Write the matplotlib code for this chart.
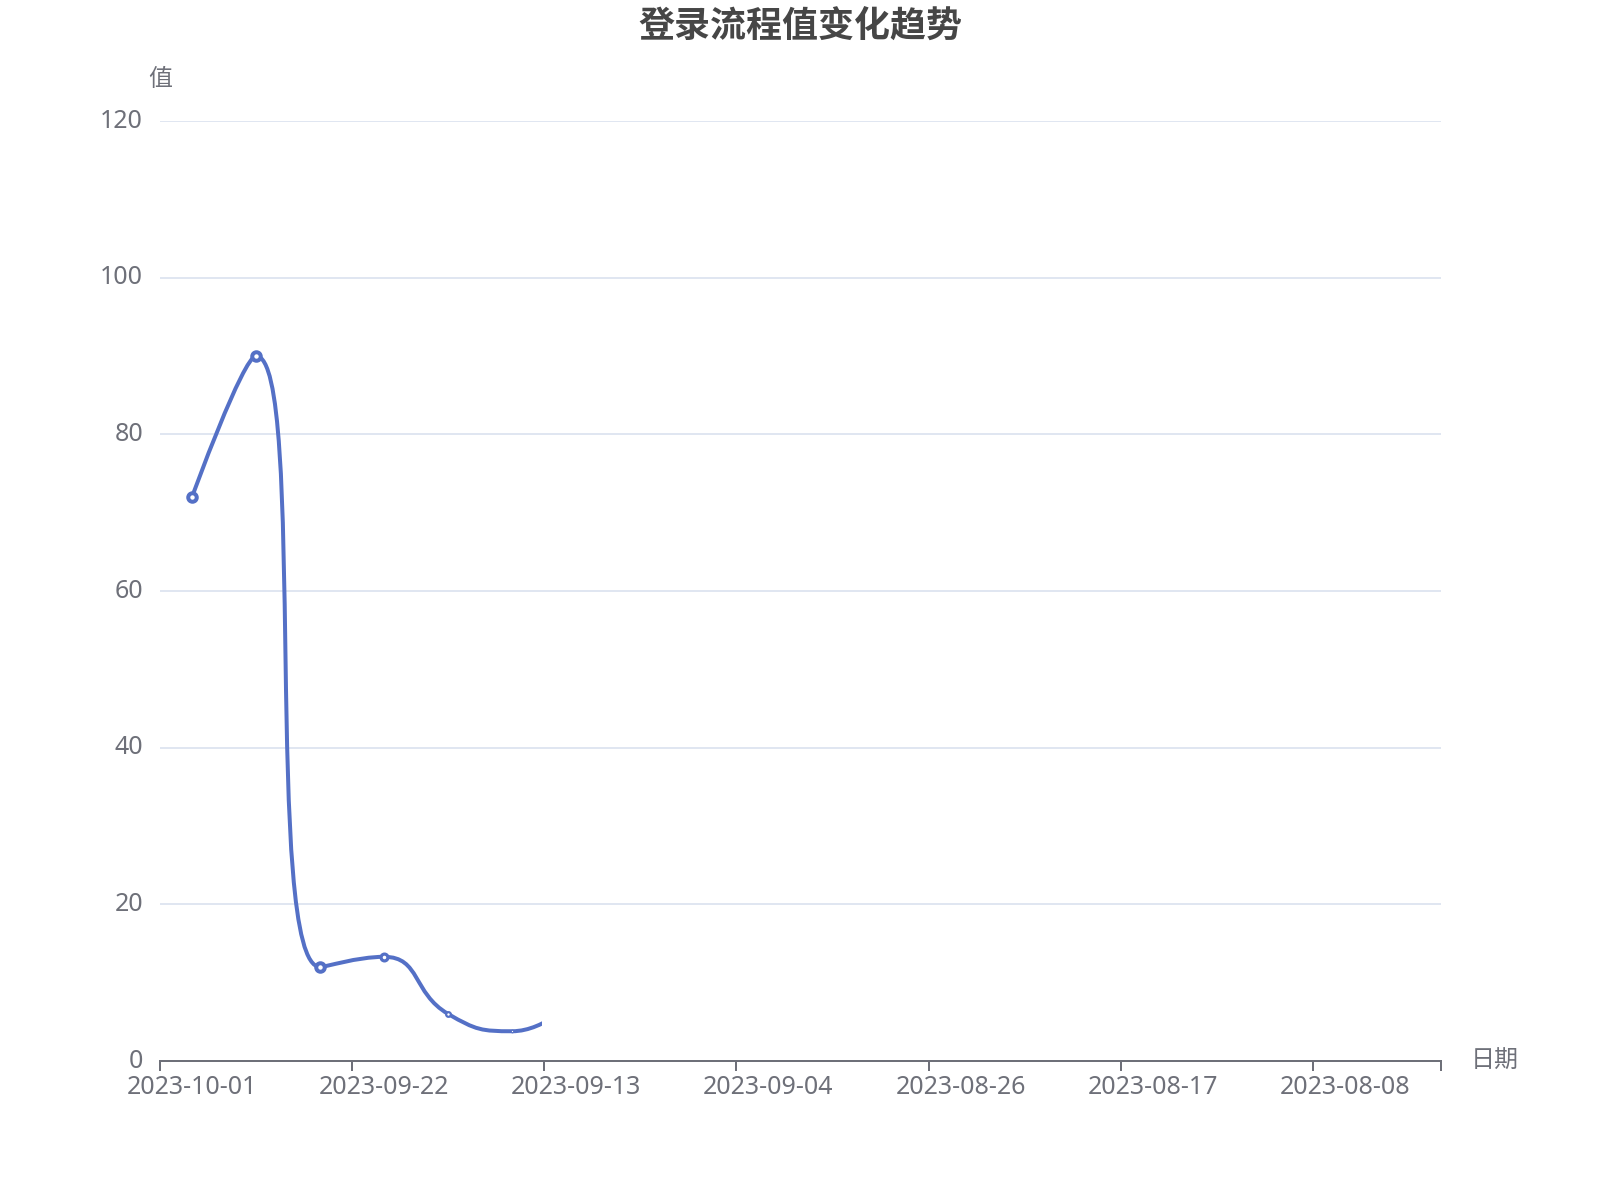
import matplotlib
matplotlib.use("Agg")
import matplotlib.pyplot as plt
from matplotlib.path import Path
from matplotlib.patches import PathPatch, Rectangle
import matplotlib.transforms as mtransforms
import numpy as np

# ---------------- data ----------------
dates = ["2023-10-01", "2023-09-28", "2023-09-25", "2023-09-22", "2023-09-19",
         "2023-09-16", "2023-09-13", "2023-09-10", "2023-09-07", "2023-09-04",
         "2023-09-01", "2023-08-29", "2023-08-26", "2023-08-23", "2023-08-20",
         "2023-08-17", "2023-08-14", "2023-08-11", "2023-08-08", "2023-08-05"]
values = [72, 90, 12, 13.3, 6, 3.8, 8]
yticks = [0, 20, 40, 60, 80, 100, 120]
title = "登录流程值变化趋势"
y_name = "值"
x_name = "日期"

# ---------------- style ----------------
LINE = "#5470C6"
LABEL = "#6E7079"
GRID = "#E0E6F1"
TITLE_C = "#464646"
PX = 72 / 100.0  # points per pixel at dpi 100
reveal_fraction = 0.298          # portion of the line already drawn (animation state)
marker_scale = [1, 1, 1, 0.8, 0.55, 0.3]   # symbol scale during animation

plt.rcParams["font.family"] = ["Noto Sans", "Noto Sans CJK SC", "DejaVu Sans"]

fig = plt.figure(figsize=(16, 12), dpi=100)
ax = fig.add_axes([160 / 1600, 1 - 1061 / 1200, (1441 - 160) / 1600, (1061 - 121) / 1200])
n = len(dates)
ax.set_xlim(-0.5, n - 0.5)
ax.set_ylim(yticks[0], yticks[-1])

for s in ["top", "right", "left"]:
    ax.spines[s].set_visible(False)
ax.spines["bottom"].set_color(LABEL)
ax.spines["bottom"].set_linewidth(2 * PX)
ax.spines["bottom"].set_zorder(3)

# grid
for v in yticks[1:]:
    ax.axhline(v, color=GRID, lw=2 * PX, zorder=0)

# y ticks
ax.set_yticks(yticks)
ax.set_yticklabels([str(v) for v in yticks])
ax.tick_params(axis="y", length=0, pad=17 * PX, labelsize=25 * PX, labelcolor=LABEL)
up = mtransforms.ScaledTranslation(0, 3 / 100, fig.dpi_scale_trans)
for lab in ax.get_yticklabels():
    lab.set_transform(lab.get_transform() + up)

# x ticks: labels at category centers every 3, tick marks at band boundaries
lab_idx = list(range(0, n, 3))
ax.set_xticks(lab_idx)
ax.set_xticklabels([dates[i] for i in lab_idx])
ax.tick_params(axis="x", which="major", length=0, pad=14 * PX, labelsize=25 * PX, labelcolor=LABEL)
bounds = [i - 0.5 for i in range(0, n, 3)] + [n - 0.5]
ax.set_xticks(bounds, minor=True)
ax.tick_params(axis="x", which="minor", length=10 * PX, width=2 * PX, color=LABEL, direction="out")

# ---------------- smooth line (ECharts-style bezier) ----------------
xs = np.arange(len(values), dtype=float)
ys = np.array(values, dtype=float)
fig.canvas.draw()
pts = ax.transData.transform(np.column_stack([xs, ys]))


def echarts_smooth(P, s=0.5):
    verts = [tuple(P[0])]
    codes = [Path.MOVETO]
    cpx0, cpy0 = P[0]
    px_, py_ = P[0]
    m = len(P)
    for i in range(1, m):
        x, y = P[i]
        ncx = ncy = None
        if i == m - 1:
            cpx1, cpy1 = x, y
        else:
            nx, ny = P[i + 1]
            vx, vy = nx - px_, ny - py_
            lp = np.hypot(x - px_, y - py_)
            ln = np.hypot(nx - x, ny - y)
            r = ln / (ln + lp)
            ncx = x + vx * s * r
            ncy = y + vy * s * r
            ncx = max(min(ncx, max(nx, x)), min(nx, x))
            ncy = max(min(ncy, max(ny, y)), min(ny, y))
            vx, vy = ncx - x, ncy - y
            cpx1 = x - vx * lp / ln
            cpy1 = y - vy * lp / ln
            cpx1 = max(min(cpx1, max(px_, x)), min(px_, x))
            cpy1 = max(min(cpy1, max(py_, y)), min(py_, y))
            vx, vy = x - cpx1, y - cpy1
            ncx = x + vx * ln / lp
            ncy = y + vy * ln / lp
        verts += [(cpx0, cpy0), (cpx1, cpy1), (x, y)]
        codes += [Path.CURVE4] * 3
        cpx0, cpy0 = (ncx, ncy) if ncx is not None else (x, y)
        px_, py_ = x, y
    return np.array(verts), codes


V, C = echarts_smooth(pts)
Vd = ax.transData.inverted().transform(V)
patch = PathPatch(Path(Vd, C), facecolor="none", edgecolor=LINE, lw=4 * PX,
                  capstyle="round", joinstyle="round", zorder=4)
ax.add_patch(patch)
x0, x1 = ax.get_xlim()
clip = Rectangle((x0, -10), (x1 - x0) * reveal_fraction, 200, transform=ax.transData)
patch.set_clip_path(clip)

for i, sc in enumerate(marker_scale):
    ax.plot(xs[i], ys[i], marker="o", ms=8.5 * PX * sc, mew=4 * PX * sc,
            mfc="white", mec=LINE, zorder=5, clip_on=False)

# ---------------- titles / axis names ----------------
fig.text(0.5, 1 - 8 / 1200, title, ha="center", va="top", fontsize=36 * PX,
         fontweight="bold", color=TITLE_C, family=["Noto Sans CJK SC", "DejaVu Sans"])
fig.text(160 / 1600, 1 - 91 / 1200, y_name, ha="center", va="bottom", fontsize=24 * PX,
         color=LABEL, family=["Noto Sans CJK SC", "DejaVu Sans"])
fig.text(1471 / 1600, 1 - 1061 / 1200, x_name, ha="left", va="center", fontsize=24 * PX,
         color=LABEL, family=["Noto Sans CJK SC", "DejaVu Sans"])

fig.savefig("out.png", dpi=100, facecolor="white")
